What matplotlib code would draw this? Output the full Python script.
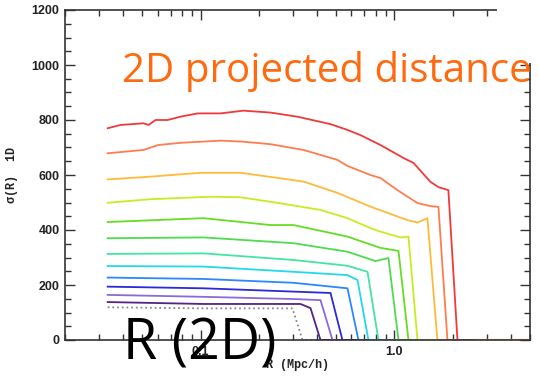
import matplotlib
matplotlib.use("Agg")
import matplotlib.pyplot as plt
from matplotlib.patches import Rectangle
from matplotlib.ticker import FixedLocator, MultipleLocator, LogLocator, NullFormatter

# velocity dispersion profiles sigma(R) vs projected radius R (Mpc/h)
# ordered from the lowest curve (dotted) to the highest (red)
r_dot = [0.0332, 0.1036, 0.298, 0.3355]
s_dot = [119, 115, 115, 0]

r_purple = [0.0332, 0.1036, 0.3277, 0.369, 0.4155]
s_purple = [138, 131, 131, 116, 0]

r_lavender = [0.0332, 0.1036, 0.3016, 0.4155, 0.479]
s_lavender = [164, 157, 149, 145, 0]

r_dblue = [0.0332, 0.1036, 0.3016, 0.468, 0.539]
s_dblue = [194, 188, 176, 171, 0]

r_lblue = [0.0332, 0.1036, 0.3016, 0.5724, 0.652]
s_lblue = [227, 222, 208, 188, 0]

r_cyan = [0.0332, 0.1036, 0.3016, 0.5724, 0.645, 0.734]
s_cyan = [269, 267, 248, 236, 218, 0]

r_mint = [0.0332, 0.1036, 0.3016, 0.5724, 0.726, 0.827]
s_mint = [313, 315, 291, 270, 248, 0]

r_green6 = [0.0332, 0.1036, 0.3016, 0.5724, 0.798, 0.931, 1.049]
s_green6 = [370, 373, 352, 321, 287, 298, 0]

r_green5 = [0.0332, 0.1036, 0.2296, 0.3016, 0.5724, 0.847, 1.049, 1.181]
s_green5 = [429, 443, 418, 418, 376, 335, 324, 0]

r_ygreen = [0.0332, 0.0552, 0.1126, 0.1608, 0.2585, 0.4155, 0.5724, 0.752,
            0.847, 1.074, 1.181, 1.314]
s_ygreen = [499, 512, 521, 519, 497, 473, 443, 407, 394, 373, 376, 0]

r_yellow = [0.0332, 0.0552, 0.1, 0.1608, 0.2585, 0.340, 0.508, 0.752,
            1.167, 1.314, 1.479, 1.665]
s_yellow = [584, 594, 608, 608, 588, 576, 535, 485, 436, 427, 443, 0]

r_orange = [0.0332, 0.0508, 0.0605, 0.0788, 0.1268, 0.1666, 0.2296, 0.340,
            0.508, 0.572, 0.752, 0.847, 1.036, 1.314, 1.533, 1.686, 1.876]
s_orange = [679, 691, 709, 717, 725, 721, 712, 691, 655, 633, 600, 589,
            545, 498, 487, 484, 0]

r_red = [0.0332, 0.0387, 0.0508, 0.054, 0.0586, 0.0676, 0.0788, 0.0966,
         0.1268, 0.1666, 0.2296, 0.316, 0.468, 0.572, 0.668, 0.847, 1.112,
         1.253, 1.533, 1.686, 1.897, 2.113]
s_red = [770, 782, 788, 782, 800, 800, 812, 824, 824, 834, 827, 812, 785,
         764, 745, 709, 662, 644, 575, 556, 545, 0]

r_end = 2.6     # where the zero-level tails stop
r_max = 5.0

curves = [
    (r_purple, s_purple, '#552288'),
    (r_lavender, s_lavender, '#8a6ad8'),
    (r_dblue, s_dblue, '#2a2ad8'),
    (r_lblue, s_lblue, '#2a88ff'),
    (r_cyan, s_cyan, '#22d8ee'),
    (r_mint, s_mint, '#44e4a4'),
    (r_green6, s_green6, '#4cdc4c'),
    (r_green5, s_green5, '#66dc22'),
    (r_ygreen, s_ygreen, '#c4ee22'),
    (r_yellow, s_yellow, '#ffba3a'),
    (r_orange, s_orange, '#ff7c4c'),
    (r_red, s_red, '#f03a3a'),
]

fig = plt.figure(figsize=(5.39, 3.80), dpi=100)
ax = fig.add_axes([65 / 539, 40 / 380, 465 / 539, 330 / 380])

ax.plot(r_dot + [r_end], s_dot + [0], color='#888888', lw=1.3, ls=(0, (1, 1.6)))
for r, s, c in curves:
    ax.plot(r + [r_end], s + [0], color=c, lw=1.3)
ax.plot([r_end, r_max], [0, 0], color='#f8b090', lw=1.6)

ax.set_xscale('log')
ax.set_xlim(0.02, r_max)
ax.set_ylim(0, 1200)

ax.xaxis.set_major_locator(FixedLocator([0.1, 1.0]))
ax.xaxis.set_minor_locator(LogLocator(base=10, subs=range(2, 10)))
ax.xaxis.set_minor_formatter(NullFormatter())
ax.set_xticklabels(['0.1', '1.0'])
ax.yaxis.set_major_locator(MultipleLocator(200))
ax.yaxis.set_minor_locator(MultipleLocator(50))

ax.tick_params(which='both', direction='in', top=True, right=True,
               color='#333333', width=1.0)
ax.tick_params(which='major', length=7, labelsize=9, pad=4)
ax.tick_params(which='minor', length=4)
for lab in ax.get_xticklabels() + ax.get_yticklabels():
    lab.set_fontweight('bold')
    lab.set_family('Liberation Sans')
    lab.set_color('#222222')
for sp in ax.spines.values():
    sp.set_color('#333333')
    sp.set_linewidth(1.2)

ax.set_xlabel('R (Mpc/h)', family=['Liberation Mono', 'DejaVu Sans Mono'],
              fontweight='bold', fontsize=8.5, labelpad=1, color='#222222')
ax.set_ylabel('σ(R)  1D', family=['Liberation Mono', 'DejaVu Sans Mono'],
              fontweight='bold', fontsize=8.5, labelpad=10, color='#222222')

# white patch of the slide covering the top-right corner
fig.patches.append(Rectangle((497 / 539, 1 - 63 / 380), 1, 1, transform=fig.transFigure,
                             facecolor='white', edgecolor='none', zorder=2))

fig.text(122 / 539, 1 - 82 / 380, '2D projected distance', family='Open Sans',
         fontsize=29, color='#ff6a10', va='baseline', ha='left', zorder=5)
fig.text(123 / 539, 1 - 360 / 380, 'R (2D)', family='Open Sans',
         fontsize=40, color='black', va='baseline', ha='left', zorder=5)

fig.savefig('out.png', dpi=100)
